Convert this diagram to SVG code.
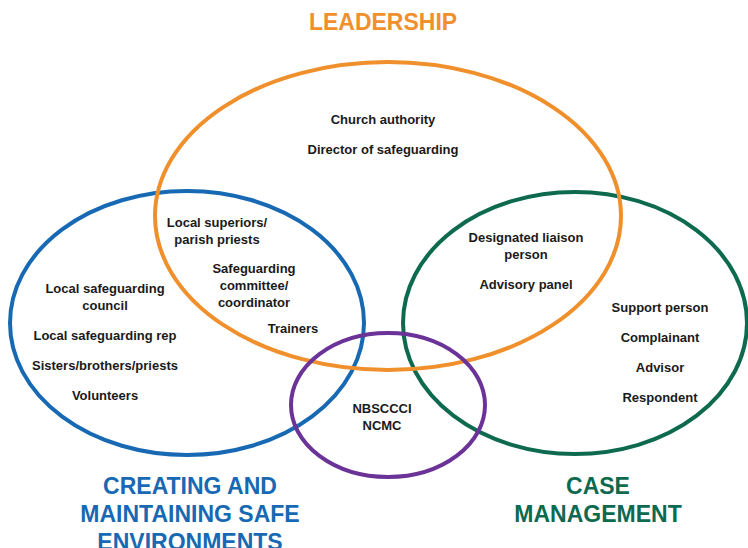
<svg xmlns="http://www.w3.org/2000/svg" width="748" height="548" viewBox="0 0 748 548">
<style>
.e{fill:none;stroke-width:4}
.t{font-family:"Liberation Sans",Arial,sans-serif;font-weight:bold;font-size:13px;fill:#1a1a1a;text-anchor:middle}
.h{font-family:"Liberation Sans",Arial,sans-serif;font-weight:bold;font-size:23px;text-anchor:middle}
</style>
<rect width="748" height="548" fill="#fff"/>
<g id="connectors"></g>
<g id="safe-environments">
<ellipse class="e" cx="187" cy="323" rx="177" ry="132" stroke="#1769B3"/>
</g>
<g id="case-management">
<ellipse class="e" cx="575" cy="323" rx="172" ry="131" stroke="#0D6A4F"/>
</g>
<g id="leadership">
<ellipse class="e" cx="388" cy="216" rx="233" ry="154" stroke="#F0902C"/>
</g>
<g id="national">
<ellipse class="e" cx="388" cy="405" rx="97" ry="72" stroke="#6B3298"/>
</g>
<g id="labels-leadership">
<text class="h" x="383" y="30" fill="#F0902C">LEADERSHIP</text>
<text class="t" x="383" y="124">Church authority</text>
<text class="t" x="383" y="154">Director of safeguarding</text>
</g>
<g id="labels-overlap">
<text class="t" x="217" y="227">Local superiors/</text>
<text class="t" x="217" y="244">parish priests</text>
<text class="t" x="254" y="273">Safeguarding</text>
<text class="t" x="254" y="290">committee/</text>
<text class="t" x="254" y="307">coordinator</text>
<text class="t" x="293" y="333">Trainers</text>
</g>
<g id="labels-safe">
<text class="t" x="105" y="293">Local safeguarding</text>
<text class="t" x="105" y="310">council</text>
<text class="t" x="105" y="340">Local safeguarding rep</text>
<text class="t" x="105" y="370">Sisters/brothers/priests</text>
<text class="t" x="105" y="400">Volunteers</text>
<text class="h" x="190" y="494" fill="#1769B3">CREATING AND</text>
<text class="h" x="190" y="522" fill="#1769B3">MAINTAINING SAFE</text>
<text class="h" x="190" y="550" fill="#1769B3">ENVIRONMENTS</text>
</g>
<g id="labels-national">
<text class="t" x="382" y="413">NBSCCCI</text>
<text class="t" x="382" y="430">NCMC</text>
</g>
<g id="labels-case">
<text class="t" x="526" y="242">Designated liaison</text>
<text class="t" x="526" y="259">person</text>
<text class="t" x="526" y="289">Advisory panel</text>
<text class="t" x="660" y="312">Support person</text>
<text class="t" x="660" y="342">Complainant</text>
<text class="t" x="660" y="372">Advisor</text>
<text class="t" x="660" y="402">Respondent</text>
<text class="h" x="598" y="494" fill="#0D6A4F">CASE</text>
<text class="h" x="598" y="522" fill="#0D6A4F">MANAGEMENT</text>
</g>
</svg>
